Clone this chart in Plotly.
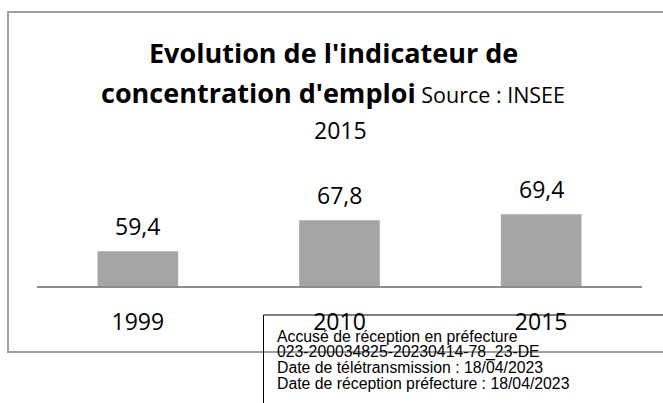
import plotly.graph_objects as go

# Data
years = ["1999", "2010", "2015"]
indicator = [59.4, 67.8, 69.4]

title_line1 = "Evolution de l'indicateur de"
title_line2_bold = "concentration d'emploi"
title_line2_rest = " Source : INSEE"
title_line3 = "2015"

stamp_lines = [
    "Accusé de réception en préfecture",
    "023-200034825-20230414-78_23-DE",
    "Date de télétransmission : 18/04/2023",
    "Date de réception préfecture : 18/04/2023",
]

# Canvas and plot-area geometry (pixels)
W, H = 663, 403
L, R, T, B = 37, 642, 175, 286
PW, PH = R - L, B - T


def px_x(px):
    return (px - L) / PW


def px_y(py):
    return (B - py) / PH


FONT = "Open Sans"
BAR_COLOR = "#a5a5a5"

fig = go.Figure()
fig.add_trace(go.Bar(
    x=years,
    y=indicator,
    marker=dict(color=BAR_COLOR, line=dict(width=0)),
    width=0.4,
    hoverinfo="skip",
))

annotations = []

# Value labels above each bar (category positions 0, 1, 2)
for i, v in enumerate(indicator):
    annotations.append(dict(
        x=i, y=v, xref="x", yref="y",
        text=f"{v:.1f}".replace(".", ","),
        showarrow=False, yanchor="middle", yshift=25,
        font=dict(family=FONT, size=23, color="#000000"),
    ))

# Chart title (three lines)
annotations.append(dict(
    x=px_x(333), y=px_y(52), xref="paper", yref="paper",
    text=f"<b>{title_line1}</b>", showarrow=False,
    xanchor="center", yanchor="middle",
    font=dict(family=FONT, size=27, color="#000000"),
))
annotations.append(dict(
    x=px_x(333), y=px_y(92), xref="paper", yref="paper",
    text=(f"<b>{title_line2_bold}</b>"
          f"<span style='font-size:21.5px'>{title_line2_rest}</span>"),
    showarrow=False,
    xanchor="center", yanchor="middle",
    font=dict(family=FONT, size=27, color="#000000"),
))
annotations.append(dict(
    x=px_x(340), y=px_y(130), xref="paper", yref="paper",
    text=title_line3, showarrow=False,
    xanchor="center", yanchor="middle",
    font=dict(family=FONT, size=23, color="#000000"),
))

# Reception stamp text
for i, line in enumerate(stamp_lines):
    annotations.append(dict(
        x=px_x(275), y=px_y(336.5 + i * 15.7), xref="paper", yref="paper",
        text=line, showarrow=False, xanchor="left", yanchor="middle",
        font=dict(family="Liberation Sans, Arial", size=15.8, color="#000000"),
    ))

shapes = [
    # chart frame
    dict(type="rect", xref="paper", yref="paper",
         x0=px_x(8), x1=px_x(680), y0=px_y(12), y1=px_y(352),
         line=dict(color="#a0a0a0", width=2), fillcolor="rgba(0,0,0,0)",
         layer="below"),
    # stamp frame (left and top edges)
    dict(type="line", xref="paper", yref="paper",
         x0=px_x(263.5), x1=px_x(263.5), y0=px_y(315), y1=px_y(410),
         line=dict(color="#000000", width=1)),
    dict(type="line", xref="paper", yref="paper",
         x0=px_x(263.5), x1=px_x(680), y0=px_y(315), y1=px_y(315),
         line=dict(color="#000000", width=1)),
]

fig.update_layout(
    width=W, height=H, autosize=False,
    margin=dict(l=L, r=W - R, t=T, b=H - B, pad=0),
    paper_bgcolor="white", plot_bgcolor="white",
    showlegend=False,
    bargap=0.6,
    annotations=annotations,
    shapes=shapes,
    xaxis=dict(
        type="category",
        range=[-0.5, len(years) - 0.5],
        showline=True, linecolor="#8c8c8c", linewidth=2,
        showgrid=False, zeroline=False, ticks="",
        tickfont=dict(family=FONT, size=23, color="#000000"),
        ticklabelstandoff=14,
        fixedrange=True,
    ),
    yaxis=dict(
        visible=False, range=[50, 80], fixedrange=True,
    ),
)

fig.write_html("out.html")
